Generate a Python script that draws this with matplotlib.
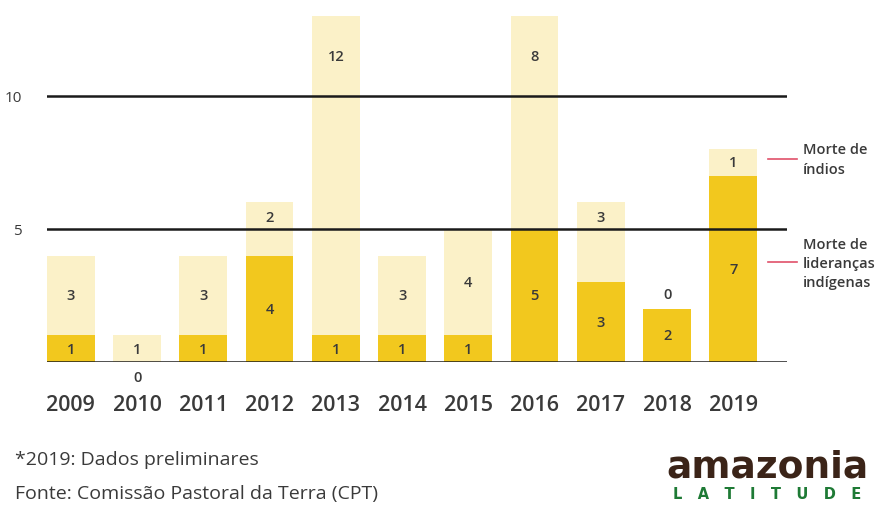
import matplotlib
matplotlib.use("Agg")
import matplotlib.pyplot as plt
import numpy as np

years = ["2009", "2010", "2011", "2012", "2013", "2014", "2015", "2016", "2017", "2018", "2019"]
liderancas = [1, 0, 1, 4, 1, 1, 1, 5, 3, 2, 7]
indios = [3, 1, 3, 2, 12, 3, 4, 8, 3, 0, 1]
yticks = [5, 10]

DARK = "#F2C81E"
LIGHT = "#FBF1C8"
TXT = "#3a3a3a"
FONT = "Open Sans"

fig = plt.figure(figsize=(8.77, 5.06), dpi=100)
ax = fig.add_axes([47/877, 1-363/506, (787-47)/877, (363-17)/506])

x = np.arange(len(years))
w = 0.72
ax.bar(x, liderancas, width=w, color=DARK, zorder=2)
ax.bar(x, indios, width=w, bottom=liderancas, color=LIGHT, zorder=2)

lab = dict(ha="center", va="center", fontsize=10.5, color=TXT,
           fontweight="semibold", family=FONT, zorder=4)
for xi, d, l in zip(x, liderancas, indios):
    if d > 0:
        ax.text(xi, d/2, str(d), **lab)
    else:
        ax.text(xi, -0.55, str(d), **lab)
    top = d + l
    if l > 0:
        mid = d + l/2
        if top > 12.5:
            ypos = 11.5
        elif any(abs(mid - g) < 0.7 for g in yticks):
            ypos = top - 0.55
        else:
            ypos = mid
        ax.text(xi, ypos, str(l), **lab)
    else:
        ax.text(xi, d + 0.55, str(l), **lab)

for yv in yticks:
    ax.axhline(yv, color="#1a1a1a", lw=1.8, zorder=3)
ax.axhline(0, color="#1a1a1a", lw=1.8, zorder=3)

ax.set_xlim(-w/2, len(years) - 1 + w/2 + 0.45)
ax.set_ylim(0, 13)
for s in ax.spines.values():
    s.set_visible(False)
ax.set_yticks(yticks)
ax.set_yticklabels([str(v) for v in yticks], family=FONT, fontsize=11, color=TXT)
ax.tick_params(axis="y", length=0, pad=18)
ax.set_xticks(x)
ax.set_xticklabels(years, family=FONT, fontsize=15.5, color=TXT, fontweight="semibold")
ax.tick_params(axis="x", length=0, pad=23)

# legend annotations
RED = "#e0506a"
fig.add_artist(plt.Line2D([768/877, 797/877], [1-160/506, 1-160/506], color=RED, lw=1.2))
fig.add_artist(plt.Line2D([768/877, 797/877], [1-263/506, 1-263/506], color=RED, lw=1.2))
fig.text(803/877, 1-160/506, "Morte de\níndios", ha="left", va="center", fontsize=10.5,
         family=FONT, fontweight="semibold", color=TXT, linespacing=1.6)
fig.text(803/877, 1-264/506, "Morte de\nlideranças\nindígenas", ha="left", va="center", fontsize=10.5,
         family=FONT, fontweight="semibold", color=TXT, linespacing=1.45)

# footer
fig.text(15/877, 1-460/506, "*2019: Dados preliminares", ha="left", va="center", fontsize=14,
         family=FONT, color=TXT, fontweight="medium")
fig.text(15/877, 1-494/506, "Fonte: Comissão Pastoral da Terra (CPT)", ha="left", va="center", fontsize=14,
         family=FONT, color=TXT, fontweight="medium")

# logo
fig.text(767/877, 1-468/506, "amazonia", ha="center", va="center", fontsize=27,
         family="DejaVu Sans", fontweight="bold", color="#3b2418")
fig.text(767/877, 1-495/506, "L   A   T   I   T   U   D   E", ha="center", va="center", fontsize=10.5,
         family="DejaVu Sans", fontweight="bold", color="#1e7a35")

fig.savefig("out.png", dpi=100)
